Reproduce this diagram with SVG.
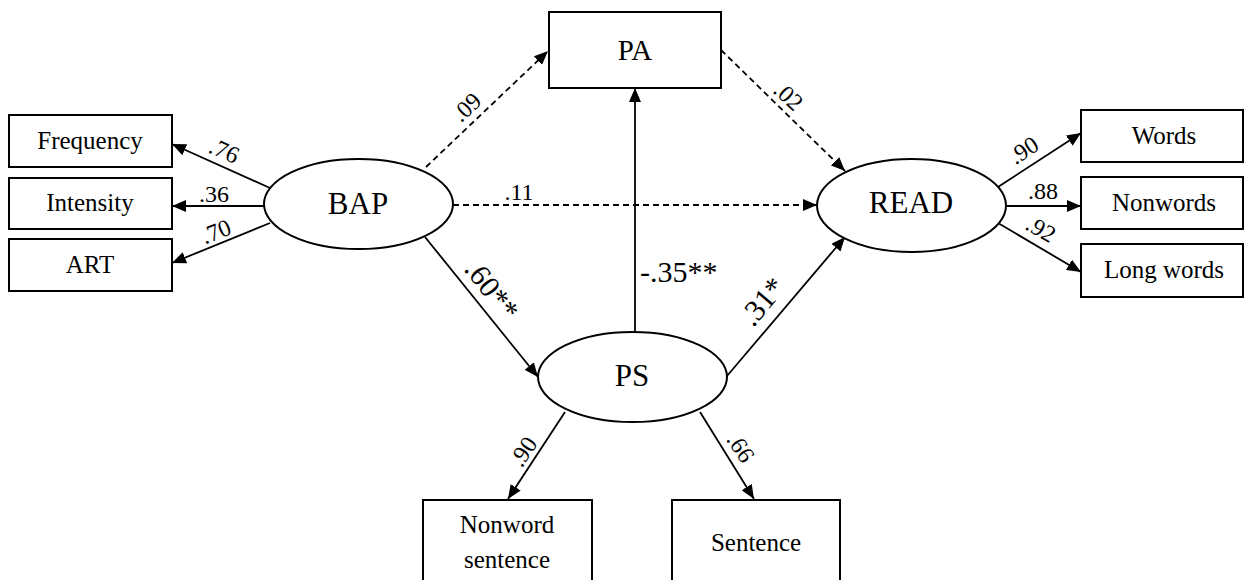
<svg xmlns="http://www.w3.org/2000/svg" width="1250" height="580" viewBox="0 0 1250 580">
<style>
.box{fill:#fff;stroke:#000;stroke-width:2}
.ell{fill:#fff;stroke:#000;stroke-width:2}
.t{font-family:'Liberation Serif','Times New Roman',serif;fill:#000;text-anchor:middle}
.bt{font-size:25px}
.nt{font-size:31px}
.lb{font-family:'Liberation Serif','Times New Roman',serif;fill:#000;font-size:24px;text-anchor:middle}
.lbb{font-size:30px}
.ln{stroke:#000;stroke-width:1.8;fill:none;marker-end:url(#ah)}
.dash{stroke-dasharray:6 4}
</style>
<defs>
<marker id="ah" viewBox="0 0 14 12" refX="14" refY="6" markerWidth="14" markerHeight="12" markerUnits="userSpaceOnUse" orient="auto">
<path d="M0,0 L14,6 L0,12 Z" fill="#000"/>
</marker>
</defs>
<rect width="1250" height="580" fill="#fff"/>
<g id="connectors">
<line class="ln" x1="270" y1="188" x2="172" y2="144"/>
<line class="ln" x1="264" y1="206" x2="172" y2="206"/>
<line class="ln" x1="270" y1="223" x2="172" y2="263"/>
<line class="ln dash" x1="426" y1="167" x2="548" y2="51"/>
<line class="ln dash" x1="721" y1="50" x2="845" y2="171"/>
<line class="ln dash" x1="453" y1="205" x2="817" y2="205"/>
<line class="ln" x1="425" y1="237" x2="538" y2="377"/>
<line class="ln" x1="635" y1="332" x2="635" y2="88"/>
<line class="ln" x1="727" y1="376" x2="845" y2="237"/>
<line class="ln" x1="998" y1="187" x2="1081" y2="133"/>
<line class="ln" x1="1006" y1="206" x2="1081" y2="206"/>
<line class="ln" x1="998" y1="223" x2="1081" y2="272"/>
<line class="ln" x1="565" y1="412" x2="508" y2="499"/>
<line class="ln" x1="700" y1="412" x2="754" y2="499"/>
<text class="lb" font-family="Liberation Serif, serif" transform="translate(221,158) rotate(24)">.76</text>
<text class="lb" font-family="Liberation Serif, serif" x="214" y="202">.36</text>
<text class="lb" font-family="Liberation Serif, serif" transform="translate(219,239) rotate(-22)">.70</text>
<text class="lb" font-family="Liberation Serif, serif" transform="translate(472,113) rotate(-43)">.09</text>
<text class="lb" font-family="Liberation Serif, serif" transform="translate(783,102) rotate(43)">.02</text>
<text class="lb" font-family="Liberation Serif, serif" x="519" y="200">.11</text>
<text class="lb lbb" font-family="Liberation Serif, serif" transform="translate(484,296) rotate(52)">.60**</text>
<text class="lb lbb" font-family="Liberation Serif, serif" x="640" y="282" style="text-anchor:start">-.35**</text>
<text class="lb lbb" font-family="Liberation Serif, serif" transform="translate(770,308) rotate(-50)">.31*</text>
<text class="lb" font-family="Liberation Serif, serif" transform="translate(1028,157) rotate(-33)">.90</text>
<text class="lb" font-family="Liberation Serif, serif" x="1043" y="199">.88</text>
<text class="lb" font-family="Liberation Serif, serif" transform="translate(1037,236) rotate(30)">.92</text>
<text class="lb" font-family="Liberation Serif, serif" transform="translate(530,456) rotate(-57)">.90</text>
<text class="lb" font-family="Liberation Serif, serif" transform="translate(734,452) rotate(57)">.66</text>
</g>
<g id="frequency"><rect class="box" x="9" y="115" width="163" height="52"/><text class="t bt" font-family="Liberation Serif, serif" x="90" y="149">Frequency</text></g>
<g id="intensity"><rect class="box" x="9" y="178" width="163" height="51"/><text class="t bt" font-family="Liberation Serif, serif" x="90" y="211">Intensity</text></g>
<g id="art"><rect class="box" x="9" y="239" width="163" height="52"/><text class="t bt" font-family="Liberation Serif, serif" x="90" y="273">ART</text></g>
<g id="bap"><ellipse class="ell" cx="358.5" cy="204" rx="94.5" ry="45"/><text class="t nt" font-family="Liberation Serif, serif" x="358" y="214">BAP</text></g>
<g id="pa"><rect class="box" x="549" y="12" width="172" height="76"/><text class="t" font-family="Liberation Serif, serif" style="font-size:29px" x="635" y="60">PA</text></g>
<g id="read"><ellipse class="ell" cx="911.5" cy="205.5" rx="94.5" ry="46.5"/><text class="t nt" font-family="Liberation Serif, serif" x="911" y="213">READ</text></g>
<g id="ps"><ellipse class="ell" cx="632.5" cy="377" rx="94.5" ry="45"/><text class="t nt" font-family="Liberation Serif, serif" x="632" y="386">PS</text></g>
<g id="words"><rect class="box" x="1081" y="110" width="162" height="52"/><text class="t bt" font-family="Liberation Serif, serif" x="1164" y="144">Words</text></g>
<g id="nonwords"><rect class="box" x="1081" y="177" width="162" height="52"/><text class="t bt" font-family="Liberation Serif, serif" x="1164" y="211">Nonwords</text></g>
<g id="longwords"><rect class="box" x="1081" y="244" width="162" height="53"/><text class="t bt" font-family="Liberation Serif, serif" x="1164" y="278">Long words</text></g>
<g id="nonwordsentence"><rect class="box" x="423" y="500" width="169" height="90"/><text class="t bt" font-family="Liberation Serif, serif" x="507" y="533">Nonword</text><text class="t bt" font-family="Liberation Serif, serif" x="507" y="568">sentence</text></g>
<g id="sentence"><rect class="box" x="672" y="500" width="168" height="90"/><text class="t bt" font-family="Liberation Serif, serif" x="756" y="551">Sentence</text></g>
</svg>
